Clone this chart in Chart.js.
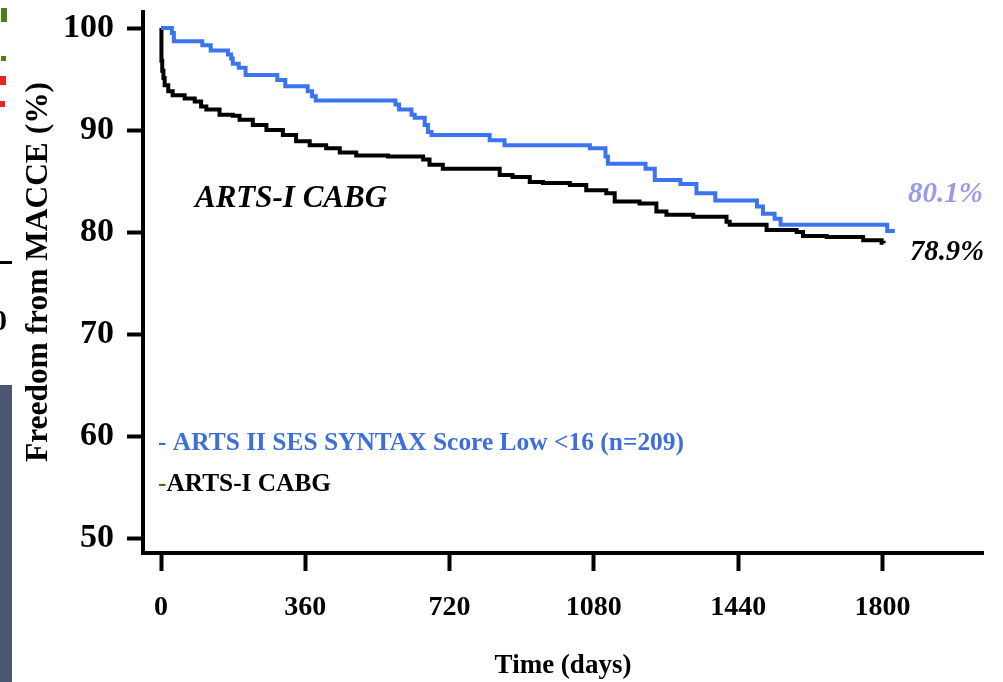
<!DOCTYPE html>
<html>
<head>
<meta charset="utf-8">
<script src="https://cdn.jsdelivr.net/npm/chart.js@4/dist/chart.umd.min.js"></script>
<style>
  html, body { margin: 0; padding: 0; background: #fff; }
  #wrap { width: 1003px; height: 682px; position: relative; }
</style>
</head>
<body>
<div id="wrap"><canvas id="km"></canvas></div>
<script>
// tick labels
const xTicks = [0, 360, 720, 1080, 1440, 1800];
const yTicks = [50, 60, 70, 80, 90, 100];

// ARTS II SES, SYNTAX score low (<16), n=209
const artsIIDays = [0, 27, 32, 103, 124, 167, 175, 179, 194, 211, 290, 310, 366, 377, 386,
  585, 594, 625, 633, 658, 666, 675, 820, 857, 1070, 1109, 1115, 1209, 1232, 1296,
  1336, 1383, 1487, 1502, 1531, 1546, 1812, 1831];
const artsIIFree = [100, 99.5, 98.7, 98.3, 97.8, 97.4, 97.0, 96.5, 96.1, 95.4, 94.9, 94.3, 93.8, 93.3, 92.9,
  92.5, 92.0, 91.5, 91.2, 90.5, 89.8, 89.5, 89.0, 88.5, 88.2, 87.4, 86.7, 86.2, 85.1, 84.7,
  83.8, 83.1, 82.5, 81.8, 81.3, 80.7, 80.1, 80.1];

// ARTS-I CABG
const artsICabgDays = [0, 1, 3, 6, 9, 18, 29, 59, 84, 100, 113, 146, 179, 196, 229, 263, 304, 337,
  371, 412, 446, 487, 566, 654, 670, 703, 845, 877, 920, 953, 1020, 1061, 1111, 1132,
  1194, 1236, 1261, 1328, 1411, 1419, 1511, 1586, 1602, 1661, 1752, 1798, 1803];
const artsICabgFree = [100, 96.8, 95.8, 95.1, 94.4, 93.8, 93.4, 93.1, 92.8, 92.3, 92.0, 91.5, 91.4, 91.0, 90.5, 90.0, 89.5, 88.9,
  88.5, 88.2, 87.8, 87.5, 87.4, 87.1, 86.6, 86.2, 85.6, 85.4, 84.9, 84.8, 84.6, 84.1, 83.8, 83.0,
  82.8, 82.0, 81.7, 81.5, 81.0, 80.7, 80.2, 80.0, 79.6, 79.5, 79.2, 78.95, 78.9];

const serif = "'Liberation Serif', 'Times New Roman', serif";

function pts(days, vals) {
  return days.map((d, i) => ({ x: d, y: vals[i] }));
}

const annotations = {
  id: "annotations",
  afterDraw(chart) {
    const ctx = chart.ctx;
    ctx.save();

    // bits of the neighbouring slide cut off on the left
    ctx.fillStyle = "#4b5670";
    ctx.fillRect(0, 385, 12, 297);
    ctx.fillStyle = "#000";
    ctx.fillRect(0, 261, 12, 3);
    ctx.fillStyle = "#4e7d1c";
    ctx.fillRect(1, 8, 6, 14);
    ctx.fillRect(1, 56, 5, 5);
    ctx.fillStyle = "#e32626";
    ctx.fillRect(0, 76, 6, 9);
    ctx.fillRect(0, 101, 5, 6);
    ctx.fillStyle = "#000";
    ctx.font = "bold 30px " + serif;
    ctx.textBaseline = "alphabetic";
    ctx.fillText("0", -8, 330);

    // y axis title
    ctx.save();
    ctx.translate(47, 462);
    ctx.rotate(-Math.PI / 2);
    ctx.font = "bold 32px " + serif;
    ctx.textAlign = "left";
    ctx.fillStyle = "#000";
    ctx.fillText("Freedom from MACCE (%)", 0, 0, 380);
    ctx.restore();

    ctx.textAlign = "left";
    ctx.textBaseline = "alphabetic";

    ctx.font = "italic bold 31px " + serif;
    ctx.fillStyle = "#000";
    ctx.fillText("ARTS-I CABG", 195, 207, 196);

    ctx.font = "italic bold 29px " + serif;
    ctx.fillStyle = "#9a9ae6";
    ctx.fillText("80.1%", 908, 202, 75);
    ctx.fillStyle = "#000";
    ctx.fillText("78.9%", 910, 260, 74);

    // legend
    ctx.font = "bold 25.5px " + serif;
    ctx.fillStyle = "#3d6fdc";
    ctx.fillText("- ARTS II SES SYNTAX Score Low <16 (n=209)", 158, 450, 526);
    ctx.fillStyle = "#3f7a1a";
    ctx.fillText("-", 158, 491);
    const dw = ctx.measureText("-").width;
    ctx.fillStyle = "#000";
    ctx.fillText("ARTS-I CABG", 158 + dw, 491, 173 - dw);

    ctx.restore();
  }
};

new Chart(document.getElementById("km"), {
  type: "line",
  data: {
    datasets: [
      {
        label: "ARTS II SES SYNTAX Score Low <16 (n=209)",
        data: pts(artsIIDays, artsIIFree),
        borderColor: "#3b74ef",
        borderWidth: 4,
        stepped: true,
        pointRadius: 0,
        fill: false
      },
      {
        label: "ARTS-I CABG",
        data: pts(artsICabgDays, artsICabgFree),
        borderColor: "#000",
        borderWidth: 4,
        stepped: true,
        pointRadius: 0,
        fill: false
      }
    ]
  },
  options: {
    responsive: true,
    maintainAspectRatio: false,
    animation: false,
    layout: { padding: { left: 0, top: 12, right: 20, bottom: 0 } },
    plugins: {
      legend: { display: false },
      tooltip: { enabled: false }
    },
    scales: {
      x: {
        type: "linear",
        min: -45,
        max: 2051,
        afterBuildTicks: (s) => { s.ticks = xTicks.map((v) => ({ value: v })); },
        afterFit: (s) => { s.height = 129; s.paddingLeft = 0; s.paddingRight = 0; },
        grid: { drawOnChartArea: false, drawTicks: true, tickLength: 18, tickWidth: 4, tickColor: "#000" },
        border: { display: true, color: "#000", width: 4 },
        ticks: {
          padding: 20,
          color: "#000",
          maxRotation: 0,
          autoSkip: false,
          callback: (v) => String(v),
          font: { family: serif, weight: "bold", size: 28 }
        },
        title: {
          display: true,
          text: "Time (days)",
          color: "#000",
          font: { family: serif, weight: "bold", size: 27, lineHeight: 1 },
          padding: { top: 0, bottom: 2 }
        }
      },
      y: {
        min: 48.53,
        max: 101.57,
        afterBuildTicks: (s) => { s.ticks = yTicks.map((v) => ({ value: v })); },
        afterFit: (s) => { s.width = 143; s.paddingTop = 0; s.paddingBottom = 0; },
        grid: { drawOnChartArea: false, drawTicks: true, tickLength: 16, tickWidth: 4, tickColor: "#000" },
        border: { display: true, color: "#000", width: 4 },
        ticks: {
          padding: 13,
          color: "#000",
          callback: (v) => String(v),
          font: { family: serif, weight: "bold", size: 34 }
        }
      }
    }
  },
  plugins: [annotations]
});
</script>
</body>
</html>
